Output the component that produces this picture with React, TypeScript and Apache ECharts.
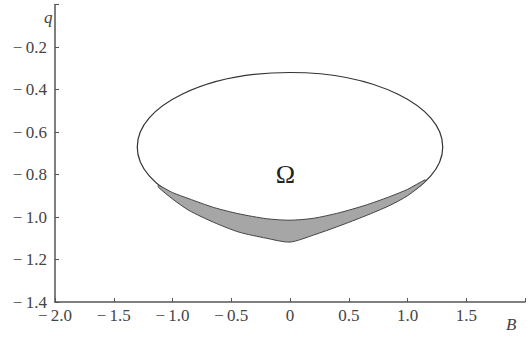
import React, { useEffect, useRef } from "react";
import * as echarts from "echarts";

// Axis ranges / ticks
const X_MIN = -2.0;
const X_MAX = 2.0;
const X_STEP = 0.5;
const Y_MIN = -1.4;
const Y_MAX = 0;
const Y_STEP = 0.2;

// Ellipse Ω: centre (B, q) and semi-axes (B, q)
const ELLIPSE_CENTER = [0, -0.67];
const ELLIPSE_RADII = [1.3, 0.35];

// Stippled band below the ellipse: B positions, upper and lower q
const BAND_B = [-1.12, -1.0, -0.86, -0.65, -0.435, -0.2, 0, 0.2, 0.42, 0.64, 0.84, 1.0, 1.15];
const BAND_UPPER = [-0.85, -0.885, -0.914, -0.955, -0.985, -1.008, -1.015, -1.006, -0.98, -0.945, -0.906, -0.87, -0.825];
const BAND_LOWER = [-0.86, -0.915, -0.969, -1.025, -1.071, -1.1, -1.118, -1.085, -1.042, -0.995, -0.948, -0.9, -0.835];

// Region label
const OMEGA_POS = [-0.04, -0.8];
const OMEGA_TEXT = "Ω";

const SERIF = "'Liberation Serif', 'Times New Roman', serif";

function fmt(v: number): string {
  const r = Math.round(v * 10) / 10;
  if (Math.abs(r) < 1e-9) return "0";
  const s = Math.abs(r).toFixed(1);
  return r < 0 ? "\u2212\u2009" + s : s;
}

export default function App() {
  const ref = useRef<HTMLDivElement>(null);
  useEffect(() => {
    if (!ref.current) return;
    const chart = echarts.init(ref.current, undefined, { renderer: "svg" });
    const axisColor = "#555";
    chart.setOption({
      animation: false,
      backgroundColor: "#fff",
      grid: { left: 55, right: 6, top: 4.5, bottom: 37 },
      xAxis: {
        type: "value",
        min: X_MIN,
        max: X_MAX,
        interval: X_STEP,
        splitLine: { show: false },
        axisLine: { onZero: false, lineStyle: { color: axisColor, width: 1.5 } },
        axisTick: { inside: true, length: 4, lineStyle: { color: axisColor } },
        axisLabel: {
          color: "#444",
          fontFamily: SERIF,
          fontSize: 17,
          lineHeight: 14,
          margin: 6,
          formatter: (v: number) => (Math.abs(v - X_MAX) < 1e-9 ? "" : fmt(v)),
        },
      },
      yAxis: {
        type: "value",
        min: Y_MIN,
        max: Y_MAX,
        interval: Y_STEP,
        splitLine: { show: false },
        axisLine: { onZero: false, lineStyle: { color: axisColor, width: 1.5 } },
        axisTick: { inside: true, length: 4, lineStyle: { color: axisColor } },
        axisLabel: {
          color: "#444",
          fontFamily: SERIF,
          fontSize: 17,
          lineHeight: 14,
          margin: 8,
          formatter: (v: number) => (Math.abs(v - Y_MAX) < 1e-9 ? "" : fmt(v)),
        },
      },
      graphic: [
        {
          type: "text",
          left: 44,
          top: 9,
          style: { text: "q", font: `italic 17px ${SERIF}`, fill: "#444" },
        },
        {
          type: "text",
          left: 506,
          top: 316,
          style: { text: "B", font: `italic 17px ${SERIF}`, fill: "#444" },
        },
      ],
      series: [
        {
          type: "custom",
          coordinateSystem: "cartesian2d",
          silent: true,
          data: [[ELLIPSE_CENTER[0], ELLIPSE_CENTER[1], ELLIPSE_RADII[0], ELLIPSE_RADII[1]]],
          renderItem: (_p: any, api: any) => {
            const c = api.coord([api.value(0), api.value(1)]);
            const s = api.size([api.value(2), api.value(3)]);
            return {
              type: "ellipse",
              shape: { cx: c[0], cy: c[1], rx: s[0], ry: s[1] },
              style: { fill: "none", stroke: "#333", lineWidth: 1.2 },
            };
          },
        },
        {
          type: "custom",
          coordinateSystem: "cartesian2d",
          silent: true,
          data: [[0]],
          z: 3,
          renderItem: (_p: any, api: any) => {
            const pts: number[][] = [];
            for (let i = 0; i < BAND_B.length; i++) pts.push(api.coord([BAND_B[i], BAND_UPPER[i]]));
            for (let i = BAND_B.length - 1; i >= 0; i--) pts.push(api.coord([BAND_B[i], BAND_LOWER[i]]));
            return {
              type: "polygon",
              shape: { points: pts, smooth: 0.25 },
              style: { fill: "#a6a6a6", stroke: "#444", lineWidth: 1 },
            };
          },
        },
        {
          type: "custom",
          coordinateSystem: "cartesian2d",
          silent: true,
          data: [OMEGA_POS],
          renderItem: (_p: any, api: any) => {
            const c = api.coord([api.value(0), api.value(1)]);
            return {
              type: "text",
              x: c[0],
              y: c[1],
              style: {
                text: OMEGA_TEXT,
                font: `26px ${SERIF}`,
                fill: "#222",
                align: "center",
                verticalAlign: "middle",
              },
            };
          },
        },
      ],
    });
    return () => chart.dispose();
  }, []);
  return (
    <div
      ref={ref}
      style={{ position: "absolute", left: 0, top: 0, width: 531, height: 339 }}
    />
  );
}
